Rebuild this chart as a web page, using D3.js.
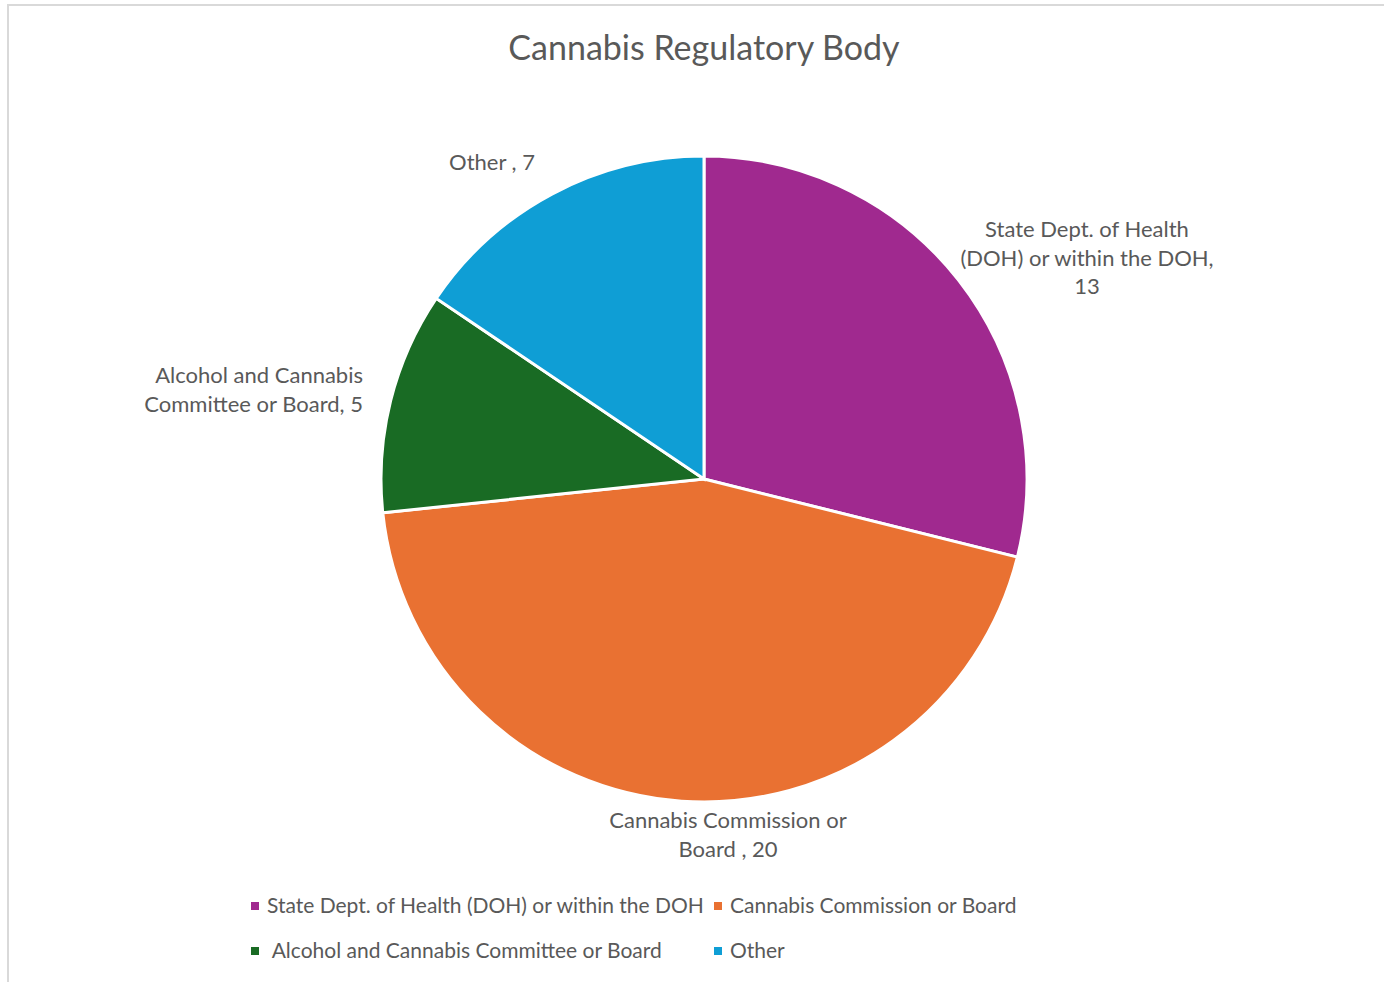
<!DOCTYPE html>
<html>
<head>
<meta charset="utf-8">
<script src="https://cdn.jsdelivr.net/npm/d3@7"></script>
<style>
  body { margin: 0; background: #fff; }
  svg text { font-family: Lato, "Open Sans", sans-serif; fill: #595959; }
</style>
</head>
<body>
<div id="chart"></div>
<script>
// data
var categories = ["State Dept. of Health (DOH) or within the DOH", "Cannabis Commission or Board", "Alcohol and Cannabis Committee or Board", "Other"];
var values = [13, 20, 5, 7];
var colors = ["#A0298F", "#E97132", "#196B24", "#0F9ED5"];
// data label text, line by line
var labelLines = [
    ["State Dept. of Health", "(DOH) or within the DOH,", "13"],
    ["Cannabis Commission or", "Board , 20"],
    ["Alcohol and Cannabis", "Committee or Board, 5"],
    ["Other , 7"]
];

var width = 1384, height = 982;
var cx = 704, cy = 479, radius = 323;

var svg = d3.select("#chart").append("svg")
    .attr("width", width)
    .attr("height", height);

// chart frame (cut off at right and bottom)
svg.append("rect")
    .attr("x", 8).attr("y", 5)
    .attr("width", width + 20).attr("height", height + 20)
    .attr("fill", "none")
    .attr("stroke", "#d9d9d9")
    .attr("stroke-width", 2);

// title
svg.append("text")
    .attr("x", cx)
    .attr("y", 60)
    .attr("text-anchor", "middle")
    .style("font-size", "34px")
    .text("Cannabis Regulatory Body");

var pie = d3.pie().sort(null).value(function(d) { return d; });
var arcs = pie(values);
var arc = d3.arc().innerRadius(0).outerRadius(radius);

var g = svg.append("g").attr("transform", "translate(" + cx + "," + cy + ")");

g.selectAll("path")
    .data(arcs)
    .enter()
    .append("path")
    .attr("d", arc)
    .attr("fill", function(d, i) { return colors[i]; })
    .attr("stroke", "#fff")
    .attr("stroke-width", 3);

// data labels, placed outside the slices
var labelPos = [
    { x: 1087, y: 237, anchor: "middle" },
    { x: 728, y: 828, anchor: "middle" },
    { x: 363, y: 383, anchor: "end" },
    { x: 535, y: 170, anchor: "end" }
];
var lineH = 28.5;

labelLines.forEach(function(lines, i) {
    var t = svg.append("text")
        .attr("text-anchor", labelPos[i].anchor)
        .style("font-size", "22px");
    lines.forEach(function(l, j) {
        t.append("tspan")
            .attr("x", labelPos[i].x)
            .attr("y", labelPos[i].y + j * lineH)
            .text(l);
    });
});

// legend
var legendItems = [
    { x: 251, y: 906, text: categories[0] },
    { x: 714, y: 906, text: categories[1] },
    { x: 251, y: 951, text: " " + categories[2] },
    { x: 714, y: 951, text: categories[3] }
];

var legend = svg.selectAll(".legend")
    .data(legendItems)
    .enter()
    .append("g")
    .attr("class", "legend");

legend.append("rect")
    .attr("x", function(d) { return d.x; })
    .attr("y", function(d) { return d.y - 4; })
    .attr("width", 8)
    .attr("height", 8)
    .attr("fill", function(d, i) { return colors[i]; });

legend.append("text")
    .attr("x", function(d) { return d.x + 16; })
    .attr("y", function(d) { return d.y + 7; })
    .style("font-size", "21px")
    .style("white-space", "pre")
    .attr("xml:space", "preserve")
    .text(function(d) { return d.text; });
</script>
</body>
</html>
